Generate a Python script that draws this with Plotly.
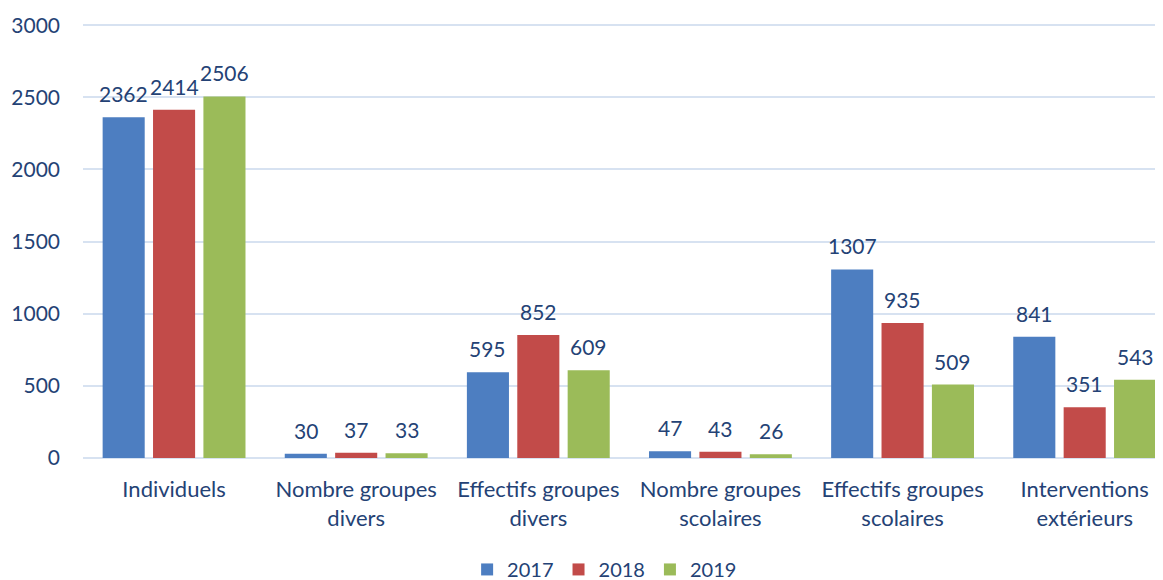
import plotly.graph_objects as go

categories = ["Individuels", "Nombre groupes<br>divers", "Effectifs groupes<br>divers",
              "Nombre groupes<br>scolaires", "Effectifs groupes<br>scolaires", "Interventions<br>extérieurs"]
years = ["2017", "2018", "2019"]
v2017 = [2362, 30, 595, 47, 1307, 841]
v2018 = [2414, 37, 852, 43, 935, 351]
v2019 = [2506, 33, 609, 26, 509, 543]
colors = ["#4D7EC1", "#C24B49", "#9BBB59"]
y_ticks = [0, 500, 1000, 1500, 2000, 2500, 3000]

TXT = "#244275"
FONT = "Lato, 'Open Sans', sans-serif"

# the page body adds an 8px offset; margins compensate for it
W, H = 1163, 580
L, R, T, B = 75, 8, 16, 130
x_range = [-0.5, 5.43]
y_range = [0, 3008]
bargap, bargroupgap = 0.17, 0.165

fig = go.Figure()
series = [v2017, v2018, v2019]
for name, vals, col in zip(years, series, colors):
    fig.add_trace(go.Bar(
        x=categories, y=vals, name=name,
        marker=dict(color=col, line=dict(width=0)),
    ))

# data labels as annotations, positioned through the axis scales
cat_px = (W - L - R) / (x_range[1] - x_range[0])
slot = cat_px * (1 - bargap) / 3
for i, vals in enumerate(series):
    for c, v in zip(categories, vals):
        fig.add_annotation(x=c, y=v, text=str(v), showarrow=False,
                           xanchor="center", yanchor="bottom",
                           xshift=(i - 1) * slot, yshift=9,
                           font=dict(size=21, color=TXT, family=FONT))

fig.update_layout(
    width=W, height=H,
    margin=dict(l=L, r=R, t=T, b=B),
    paper_bgcolor="white", plot_bgcolor="white",
    barmode="group", bargap=bargap, bargroupgap=bargroupgap,
    font=dict(family=FONT, size=21, color=TXT),
    showlegend=True,
    legend=dict(orientation="h", xref="container", x=0.513, xanchor="center",
                yref="container", y=0.032, yanchor="middle",
                font=dict(size=20, color=TXT), traceorder="normal", itemwidth=30),
)
fig.update_xaxes(range=x_range, showgrid=False, showline=False, zeroline=False,
                 tickfont=dict(size=22, color=TXT), ticks="", ticklabelstandoff=16,
                 automargin=False)
fig.update_yaxes(range=y_range, tickvals=y_ticks, showgrid=True, gridcolor="#D7E2F1",
                 gridwidth=2, zeroline=True, zerolinecolor="#D7E2F1", zerolinewidth=2,
                 showline=False, tickfont=dict(size=21, color=TXT), ticks="",
                 ticklabelstandoff=22, automargin=False)

fig.write_html("out.html")
